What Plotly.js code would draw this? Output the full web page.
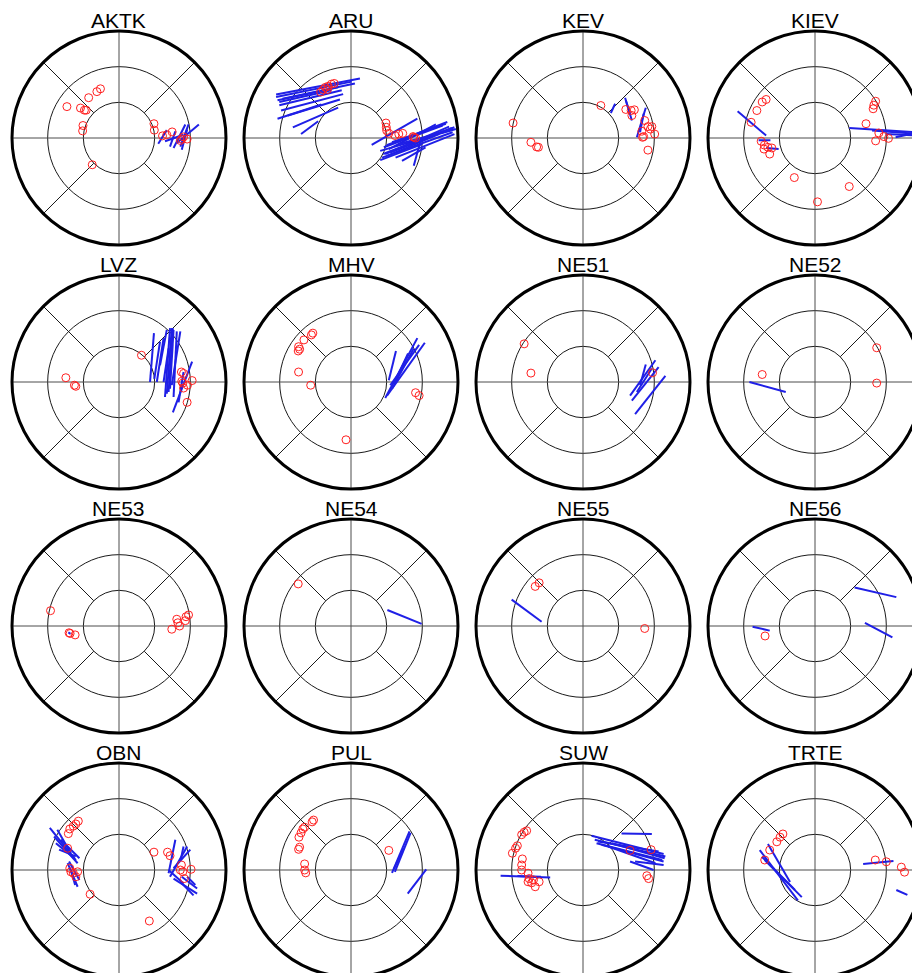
<!DOCTYPE html>
<html><head><meta charset="utf-8">
<script src="https://cdn.plot.ly/plotly-3.0.1.min.js"></script>
<style>html,body{margin:0;padding:0;overflow:hidden;background:#fff}#chart{width:940px;height:1000px}</style>
</head><body><div id="chart"></div>
<script>
// Each point: [east, north] slowness components (outer ring = 3)
// Each segment: [east0, north0, east1, north1]
const stations = ['AKTK','ARU','KEV','KIEV','LVZ','MHV','NE51','NE52','NE53','NE54','NE55','NE56','OBN','PUL','SUW','TRTE'];

const AKTK_pts = [[-1.46,0.88],[-1.08,0.84],[-0.97,0.78],[-0.92,0.78],[-0.85,1.13],[-0.62,1.30],[-0.52,1.38],[-1.01,0.35],[-1.02,0.20],[-0.75,-0.75],[0.98,0.40],[0.99,0.22],[1.22,0.06],[1.34,0.09],[1.49,0.17],[1.76,-0.03],[1.81,0.03],[1.91,-0.03],[1.72,-0.07]];
const AKTK_segs = [[1.10,-0.16,1.34,0.22],[1.43,-0.24,1.58,0.19],[1.53,-0.28,1.86,0.38],[1.72,-0.24,1.95,0.38],[1.62,-0.14,2.24,0.38],[1.29,-0.09,1.81,0.09],[1.76,-0.33,1.91,0.24]];

const ARU_pts = [[-0.85,1.29],[-0.78,1.36],[-0.72,1.42],[-0.64,1.45],[-0.55,1.51],[-0.47,1.53],[-0.66,1.36],[0.98,0.42],[0.99,0.30],[1.00,0.21],[1.06,0.13],[1.23,0.07],[1.34,0.11],[1.45,0.13],[1.76,0.02],[1.81,0.00],[1.74,0.04]];
const ARU_segs = [[-2.10,1.22,0.25,1.67],[-2.10,1.15,0.02,1.58],[-2.06,1.06,-0.36,1.42],[-2.01,0.92,-0.26,1.34],[-1.96,0.77,-0.22,1.23],[-2.06,0.54,-0.83,0.94],[-1.77,0.63,-0.31,1.08],[-1.63,0.30,-0.36,0.85],[-1.40,0.11,-0.92,0.47],[-2.01,1.01,-0.55,1.34],[-1.92,1.10,0.11,1.53],
  [0.58,-0.19,1.86,0.54],[0.82,-0.36,2.94,0.25],[0.87,-0.55,2.85,0.16],[0.82,-0.62,2.00,-0.17],[0.96,-0.45,2.75,0.32],[1.06,-0.31,2.38,0.38],[1.34,-0.17,2.85,0.23],[0.92,-0.26,2.57,0.35],[1.43,-0.64,2.09,-0.26],[1.76,-0.78,1.95,-0.08],[1.25,-0.55,2.90,0.11],[1.01,-0.50,2.47,0.11],[1.15,-0.12,2.66,0.40],[1.10,-0.41,2.83,0.28],[1.00,-0.20,2.70,0.45],[1.20,-0.35,2.90,0.30],[0.90,-0.45,2.60,0.20]];

const KEV_pts = [[-1.96,0.42],[-1.46,-0.12],[-1.30,-0.25],[-1.25,-0.26],[0.50,0.91],[1.20,0.80],[1.35,0.77],[1.44,0.79],[1.37,0.63],[1.73,0.49],[1.82,0.32],[1.93,0.32],[1.89,0.25],[2.01,0.11],[1.65,0.19],[1.67,0.02],[1.82,-0.34],[1.70,0.04]];
const KEV_segs = [[0.78,0.70,0.90,0.96],[1.18,1.13,1.37,0.49],[1.20,1.06,1.32,0.68],[1.76,0.85,1.51,0.02],[1.70,0.68,1.60,0.16]];

const KIEV_pts = [[-1.48,1.01],[-1.37,1.08],[-1.63,0.77],[-1.79,0.44],[-1.51,-0.09],[-1.42,-0.20],[-1.43,-0.31],[-1.32,-0.26],[-1.21,-0.28],[-1.27,-0.45],[-0.58,-1.11],[0.07,-1.79],[0.96,-1.36],[1.70,1.03],[1.65,0.92],[1.63,0.82],[1.43,0.40],[1.79,0.14],[1.93,0.04],[2.06,-0.01],[1.70,-0.08]];
const KIEV_segs = [[-2.17,0.75,-1.37,0.07],[-1.58,-0.06,-1.25,-0.06],[-1.37,-0.28,-1.02,-0.31],[0.96,0.28,2.90,0.16],[1.60,0.21,2.90,0.11],[1.98,0.11,2.90,0.07],[2.26,0.02,2.90,0.16]];

const LVZ_pts = [[-1.49,0.12],[-1.25,-0.09],[-1.21,-0.12],[0.63,0.75],[1.75,0.28],[1.81,0.24],[1.76,0.02],[1.79,-0.03],[1.92,-0.09],[2.05,0.04],[1.81,-0.17],[1.91,-0.57]];
const LVZ_segs = [[0.87,0.00,0.98,1.37],[0.99,0.09,1.15,1.13],[1.06,0.00,1.25,1.23],[1.15,0.47,1.34,1.46],[1.29,-0.42,1.43,1.51],[1.34,-0.33,1.48,1.51],[1.39,-0.28,1.51,1.51],[1.43,-0.19,1.53,1.46],[1.48,-0.09,1.72,1.42],[1.53,-0.42,1.62,1.42],[1.51,-0.85,2.05,0.57],[1.25,0.00,1.39,0.94],[1.67,-0.57,1.81,0.28]];

const MHV_pts = [[-1.07,1.37],[-1.11,1.32],[-1.32,1.18],[-1.47,0.99],[-1.44,0.92],[-1.48,0.87],[-1.47,0.28],[-1.13,-0.09],[-0.14,-1.62],[1.81,-0.30],[1.91,-0.38]];
const MHV_segs = [[1.06,0.05,1.26,0.87],[0.96,-0.45,1.86,1.23],[1.01,-0.38,2.07,1.10],[1.15,-0.19,1.76,0.94],[1.20,-0.05,1.60,0.80],[1.10,-0.09,1.91,1.04]];

const NE51_pts = [[-1.65,1.07],[-1.46,0.25],[1.95,0.26]];
const NE51_segs = [[1.32,-0.38,2.03,0.61],[1.37,-0.52,2.12,0.42],[1.46,-0.90,2.31,0.17],[1.60,-0.09,1.76,0.49],[1.51,-0.28,1.93,0.38]];

const NE52_pts = [[-1.48,0.21],[1.73,0.96],[1.73,-0.03]];
const NE52_segs = [[-1.84,0.00,-0.82,-0.28]];

const NE53_pts = [[-1.92,0.43],[-1.40,-0.19],[-1.37,-0.21],[-1.23,-0.25],[1.48,-0.09],[1.62,0.19],[1.65,0.09],[1.70,0.00],[1.86,0.15],[1.88,0.26],[1.95,0.31]];
const NE53_segs = [[-1.42,-0.18,-1.36,-0.22]];

const NE54_pts = [[-1.48,1.18]];
const NE54_segs = [[1.02,0.45,1.98,0.06]];

const NE55_pts = [[-1.34,1.11],[-1.23,1.21],[1.73,-0.07]];
const NE55_segs = [[-2.00,0.74,-1.16,0.12]];

const NE56_pts = [[-1.40,-0.28]];
const NE56_segs = [[-1.75,-0.02,-1.27,-0.13],[1.11,1.08,2.28,0.81],[1.40,0.09,2.17,-0.32]];

const OBN_pts = [[-1.14,1.37],[-1.21,1.29],[-1.28,1.23],[-1.38,1.15],[-1.42,1.02],[-1.44,0.61],[-1.38,0.05],[-1.35,-0.05],[-1.28,-0.09],[-1.16,-0.05],[-1.21,-0.19],[-0.81,-0.68],[0.85,-1.43],[0.98,0.50],[1.36,0.50],[1.43,0.40],[1.75,0.14],[1.79,-0.05],[2.02,0.02],[1.83,-0.24],[1.72,0.00]];
const OBN_segs = [[-1.94,1.18,-1.21,0.28],[-1.82,0.94,-1.16,0.19],[-1.77,0.75,-1.25,0.33],[-1.73,1.13,-1.35,0.47],[-1.68,0.57,-1.21,0.38],[-1.44,0.19,-1.16,-0.47],[-1.40,0.24,-1.11,-0.28],[-1.35,0.00,-1.23,-0.42],[-1.63,0.85,-1.11,0.33],
  [1.39,-0.09,1.58,0.85],[1.43,-0.19,1.91,0.66],[1.53,0.05,2.00,0.57],[1.39,0.00,1.81,-0.38],[1.53,-0.24,2.19,-0.66],[1.72,-0.33,2.09,-0.71],[1.76,-0.19,2.19,-0.52],[1.72,0.24,1.81,0.66],[1.91,-0.19,2.14,-0.42]];

const PUL_pts = [[-1.05,1.40],[-1.09,1.35],[-1.30,1.20],[-1.35,1.15],[-1.40,1.04],[-1.46,0.92],[-1.44,0.64],[-1.47,0.58],[-1.30,0.17],[-1.30,0.00],[-1.27,-0.08],[1.06,0.55]];
const PUL_segs = [[1.15,-0.08,1.64,1.08],[1.23,-0.05,1.67,1.04],[1.20,0.02,1.48,0.61],[1.59,-0.66,2.11,0.02]];

const SUW_pts = [[-1.58,1.10],[-1.65,1.06],[-1.72,0.99],[-1.84,0.68],[-1.89,0.61],[-1.98,0.47],[-1.70,0.31],[-1.72,0.14],[-1.72,0.00],[-1.54,-0.09],[-1.51,-0.24],[-1.54,-0.33],[-1.44,-0.36],[-1.34,-0.47],[-1.23,-0.33],[-1.39,-0.28],[1.32,0.55],[1.91,0.57],[1.79,-0.16],[1.84,-0.24]];
const SUW_segs = [[-2.31,-0.16,-0.92,-0.21],[-1.84,-0.17,-1.18,-0.19],[0.24,0.96,2.26,0.45],[0.33,0.85,2.31,0.38],[0.38,0.75,2.22,0.28],[0.52,0.71,2.26,0.24],[0.71,0.66,2.03,0.19],[1.08,1.02,1.93,1.01],[1.32,0.24,1.98,0.00],[1.46,0.24,2.26,0.14],[0.42,0.80,2.12,0.52],[0.80,0.75,2.29,0.33]];

const TRTE_pts = [[-0.90,1.01],[-0.98,0.92],[-1.07,0.79],[-1.27,0.56],[-1.41,0.28],[1.69,0.28],[2.00,0.23],[2.42,0.08],[2.51,-0.06]];
const TRTE_segs = [[-1.55,0.56,-0.48,-0.85],[-1.41,0.28,-0.37,-0.76],[-1.32,0.73,-0.70,-0.34],[-1.49,0.37,-0.56,-0.56],[1.35,0.17,2.20,0.25],[2.28,-0.56,2.59,-0.70]];

const PTS = {AKTK:AKTK_pts,ARU:ARU_pts,KEV:KEV_pts,KIEV:KIEV_pts,LVZ:LVZ_pts,MHV:MHV_pts,NE51:NE51_pts,NE52:NE52_pts,NE53:NE53_pts,NE54:NE54_pts,NE55:NE55_pts,NE56:NE56_pts,OBN:OBN_pts,PUL:PUL_pts,SUW:SUW_pts,TRTE:TRTE_pts};
const SEGS = {AKTK:AKTK_segs,ARU:ARU_segs,KEV:KEV_segs,KIEV:KIEV_segs,LVZ:LVZ_segs,MHV:MHV_segs,NE51:NE51_segs,NE52:NE52_segs,NE53:NE53_segs,NE54:NE54_segs,NE55:NE55_segs,NE56:NE56_segs,OBN:OBN_segs,PUL:PUL_segs,SUW:SUW_segs,TRTE:TRTE_segs};

const ringValues = [1, 2];
const outerRing = 3;

// ---- layout geometry ----
const W = 940, H = 1000;
const R_PX = 107, PAD = 3.1;
const CX0 = 119, DXP = 232, CY0 = 138, DYP = 244;
const half = PAD * R_PX / outerRing;

const traces = [], shapes = [], annotations = [];
const layout = {
  width: W, height: H, autosize: false,
  margin: {l:0, r:0, t:0, b:0},
  paper_bgcolor: '#fff', plot_bgcolor: 'rgba(0,0,0,0)',
  showlegend: false,
  font: {family: 'Liberation Sans, Arial, sans-serif', color: '#000'}
};
const gridColor = '#1a1a1a';
const crossColor = '#4d4d4d';
const d = Math.SQRT1_2;

stations.forEach((name, i) => {
  const c = i % 4, r = Math.floor(i / 4), n = i + 1;
  const xs = n === 1 ? '' : String(n);
  const xa = 'x' + xs, ya = 'y' + xs;
  const cx = CX0 + DXP * c, cy = CY0 + DYP * r;
  layout['xaxis' + xs] = {domain: [(cx - half) / W, (cx + half) / W], range: [-PAD, PAD], visible: false, fixedrange: true, anchor: ya};
  layout['yaxis' + xs] = {domain: [(H - cy - half) / H, (H - cy + half) / H], range: [-PAD, PAD], visible: false, fixedrange: true, anchor: xa};

  ringValues.forEach(v => shapes.push({type:'circle', xref:xa, yref:ya, x0:-v, y0:-v, x1:v, y1:v, layer:'below', line:{color:gridColor, width:1}}));
  shapes.push({type:'line', xref:xa, yref:ya, x0:-outerRing, y0:0, x1:outerRing, y1:0, layer:'below', line:{color:crossColor, width:1}});
  shapes.push({type:'line', xref:xa, yref:ya, x0:0, y0:-outerRing, x1:0, y1:outerRing, layer:'below', line:{color:crossColor, width:1}});
  [[1,1],[1,-1],[-1,1],[-1,-1]].forEach(([sx, sy]) => {
    shapes.push({type:'line', xref:xa, yref:ya, x0:sx*d*ringValues[0], y0:sy*d*ringValues[0], x1:sx*d*outerRing, y1:sy*d*outerRing, layer:'below', line:{color:gridColor, width:1}});
  });
  shapes.push({type:'circle', xref:xa, yref:ya, x0:-outerRing, y0:-outerRing, x1:outerRing, y1:outerRing, layer:'below', line:{color:'#000', width:3}});

  const segs = SEGS[name];
  traces.push({type:'scatter', mode:'lines', xaxis:xa, yaxis:ya, hoverinfo:'skip',
    x: segs.flatMap(s => [s[0], s[2], null]), y: segs.flatMap(s => [s[1], s[3], null]),
    line:{color:'#1f1fe6', width:2}, connectgaps:false});
  const pts = PTS[name];
  traces.push({type:'scatter', mode:'markers', xaxis:xa, yaxis:ya, hoverinfo:'skip',
    x: pts.map(p => p[0]), y: pts.map(p => p[1]),
    marker:{symbol:'circle-open', size:8, color:'#ff2020', line:{width:1, color:'#ff2020'}}});

  annotations.push({text: name, xref:'paper', yref:'paper', x: cx / W, y: (H - (cy - 118)) / H,
    xanchor:'center', yanchor:'middle', showarrow:false, font:{size:21, color:'#000', family:'Liberation Sans, Arial, sans-serif'}});
});
layout.shapes = shapes;
layout.annotations = annotations;
Plotly.newPlot('chart', traces, layout, {displayModeBar:false, staticPlot:true});
</script></body></html>
